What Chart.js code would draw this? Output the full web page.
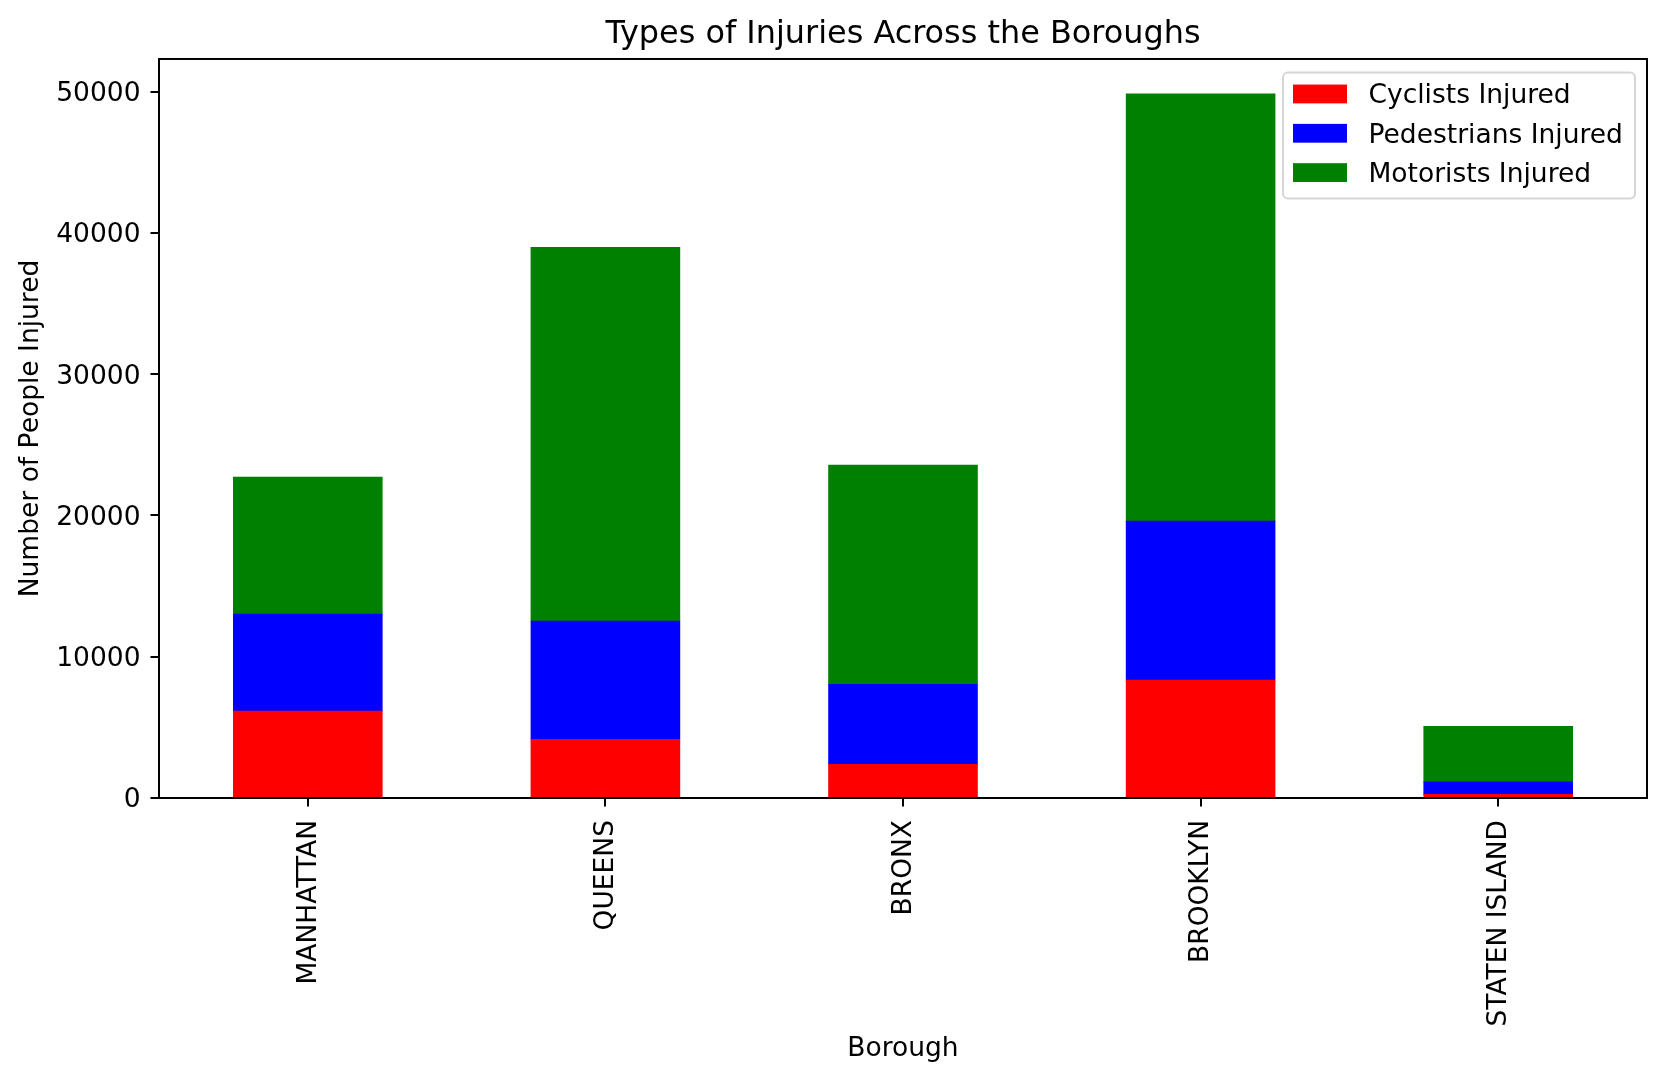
<!DOCTYPE html>
<html><head><meta charset="utf-8">
<style>html,body{margin:0;padding:0;background:#fff}canvas{display:block}</style>
<script src="https://cdn.jsdelivr.net/npm/chart.js@4"></script>
</head><body>
<canvas id="c" width="1666" height="1080" style="width:1666px;height:1080px"></canvas>
<script>
const boroughs = ["MANHATTAN","QUEENS","BRONX","BROOKLYN","STATEN ISLAND"];
const cyclists = [6140,4157,2387,8335,262];
const pedestrians = [6870,8357,5663,11265,871];
const motorists = [9700,26466,15510,30240,3944];
const yTicks = [0,10000,20000,30000,40000,50000];
const titleText = "Types of Injuries Across the Boroughs";
const xTitle = "Borough";
const yTitle = "Number of People Injured";
const yMax = 52315;
const FONT = "'DejaVu Sans'";
const TICK = 26.5;

Chart.defaults.font.family = FONT;
Chart.defaults.color = "#000";

const frameAndLegend = {
  id: "frameAndLegend",
  afterDraw(chart) {
    const {ctx, chartArea: a} = chart;
    ctx.save();
    ctx.strokeStyle = "#000"; ctx.lineWidth = 2;
    ctx.strokeRect(a.left, a.top, a.right - a.left, a.bottom - a.top);
    const x0 = a.right - 364, y0 = a.top + 13.5, w = 352, h = 126;
    ctx.strokeStyle = "#d6d6d6"; ctx.lineWidth = 2; ctx.fillStyle = "rgba(255,255,255,.8)";
    ctx.beginPath(); ctx.roundRect(x0, y0, w, h, 5); ctx.fill(); ctx.stroke();
    ctx.font = TICK + "px " + FONT; ctx.textBaseline = "middle"; ctx.textAlign = "left";
    chart.data.datasets.forEach((d, i) => {
      const cy = y0 + 21.5 + i * 39.3;
      ctx.fillStyle = d.backgroundColor;
      ctx.fillRect(x0 + 10, cy - 9.4, 54, 18.8);
      ctx.fillStyle = "#000";
      ctx.fillText(d.label, x0 + 85.5, cy + 2.5);
    });
    ctx.restore();
  }
};

new Chart(document.getElementById("c"), {
  type: "bar",
  data: {
    labels: boroughs,
    datasets: [
      {label:"Cyclists Injured", data:cyclists, backgroundColor:"#ff0000", borderWidth:0, inflateAmount:0.4},
      {label:"Pedestrians Injured", data:pedestrians, backgroundColor:"#0000ff", borderWidth:0, inflateAmount:0.4},
      {label:"Motorists Injured", data:motorists, backgroundColor:"#008000", borderWidth:0, inflateAmount:0.4}
    ]
  },
  plugins: [frameAndLegend],
  options: {
    responsive:false, animation:false, devicePixelRatio:1,
    barPercentage:0.5, categoryPercentage:1,
    layout:{padding:{left:0,right:19,top:0,bottom:0}},
    plugins:{
      legend:{display:false}, tooltip:{enabled:false},
      title:{display:true,text:titleText,fullSize:false,color:"#000",
        font:{size:31.9,weight:"normal"},padding:{top:15.7,bottom:5}}
    },
    scales:{
      x:{stacked:true,
        grid:{offset:false,drawOnChartArea:false,drawTicks:true,tickLength:8.5,color:"#000",lineWidth:2},
        border:{color:"#000",width:2},
        ticks:{minRotation:90,maxRotation:90,padding:13.5,labelOffset:1,font:{size:TICK},color:"#000",autoSkip:false},
        title:{display:true,text:xTitle,font:{size:TICK},color:"#000",padding:{top:0,bottom:15.4}},
        afterFit(s){s.height=282;}
      },
      y:{stacked:true,min:0,max:yMax,
        grid:{drawOnChartArea:false,drawTicks:true,tickLength:8.5,color:"#000",lineWidth:2},
        border:{color:"#000",width:2},
        afterBuildTicks(s){s.ticks=yTicks.map(v=>({value:v}));},
        ticks:{padding:10,labelOffset:2.5,font:{size:TICK},color:"#000",callback:v=>String(v)},
        title:{display:true,text:yTitle,font:{size:TICK},color:"#000",padding:{top:15.1,bottom:0}},
        afterFit(s){s.width=159;}
      }
    }
  }
});
</script></body></html>
